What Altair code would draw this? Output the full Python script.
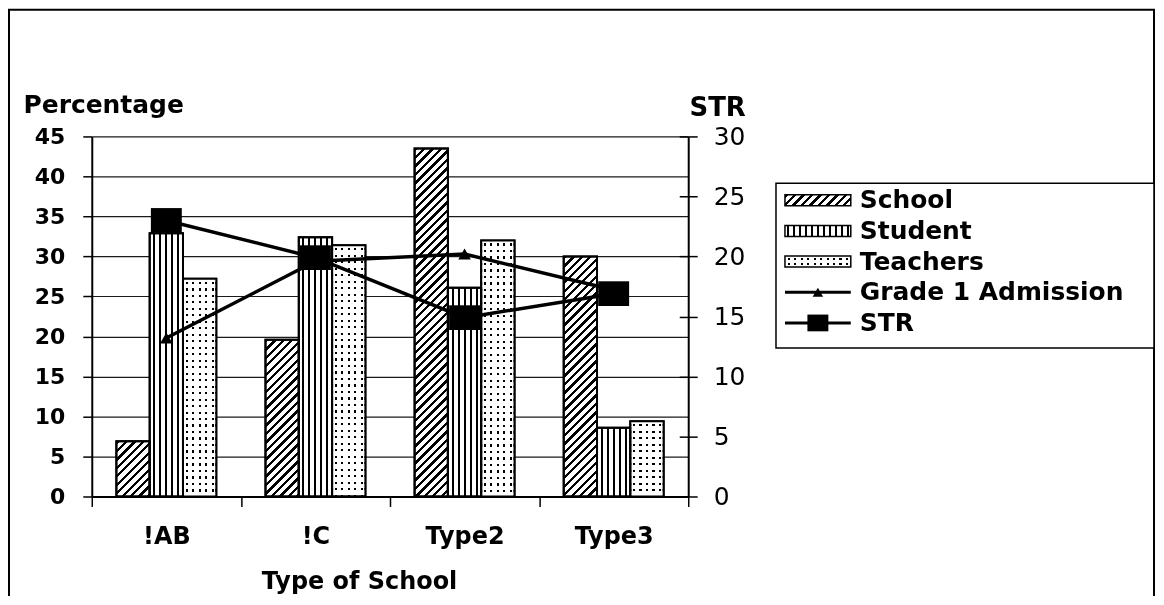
import altair as alt
import pandas as pd

# ---------------- data ----------------
categories = ["!AB", "!C", "Type2", "Type3"]
series_names = ["School", "Student", "Teachers"]
school_pct = [6.9, 19.6, 43.5, 30.0]
student_pct = [32.9, 32.4, 26.1, 8.6]
teachers_pct = [27.2, 31.4, 32.0, 9.4]
grade1_admission = [13.2, 19.6, 20.2, 17.2]
str_ratio = [23.0, 19.9, 14.9, 16.9]
pct_ticks = [0, 5, 10, 15, 20, 25, 30, 35, 40, 45]
str_ticks = [0, 5, 10, 15, 20, 25, 30]
legend_labels = ["School", "Student", "Teachers", "Grade 1 Admission", "STR"]
legend_rows = [0, 1, 2, 3, 4]

# ---------------- layout / style ----------------
FONT = "DejaVu Sans"
W, H = 1151, 588
PX0, PX1 = 84, 682          # plot area left/right (view px)
PY0, PY1 = 489, 128         # plot area bottom/top (view px)
STEP = (PX1 - PX0) / len(categories)
GROUP_FRAC = 0.67
OFF_PAD = (len(series_names) / GROUP_FRAC - len(series_names)) / 2
BAR_W = STEP * GROUP_FRAC / len(series_names)
PX_PER_PCT = (PY0 - PY1) / 45.0


def band_stops(total, period, dark, start):
    stops = [("white", 0.0)]
    p = start
    while p < total - 1e-6:
        a = max(p, 0.0)
        b = min(p + dark, total)
        if b > a:
            stops += [("white", a), ("black", a), ("black", b), ("white", b)]
        p += period
    stops.append(("white", total))
    return [{"offset": round(o / total, 5), "color": c} for c, o in stops]


def diag_fill(w, h, period=8.5, dark=3.4):
    s = (w + h) / (w * w + h * h)
    return {"gradient": "linear", "x1": 0, "y1": 0,
            "x2": round(w * s, 6), "y2": round(h * s, 6),
            "stops": band_stops(w + h, period, dark, 0.0)}


def vstripe_fill(w, period, dark, count):
    start = (w - ((count - 1) * period + dark)) / 2
    return {"gradient": "linear", "x1": 0, "y1": 0, "x2": 1, "y2": 0,
            "stops": band_stops(w, period, dark, start)}


def hstripe_fill(h, period, dark, start):
    return {"gradient": "linear", "x1": 0, "y1": 0, "x2": 0, "y2": 1,
            "stops": band_stops(h, period, dark, start)}


# ---------------- tables ----------------
bars_df = pd.DataFrame({
    "cat": categories * 3,
    "series": [s for s in series_names for _ in categories],
    "value": school_pct + student_pct + teachers_pct,
})
lines_df = pd.DataFrame({"cat": categories, "grade1": grade1_admission, "str": str_ratio})
legend_df = pd.DataFrame({"label": legend_labels, "row": legend_rows})
one_df = pd.DataFrame({"k": [0]})

# ---------------- scales / axes ----------------
x_scale = alt.Scale(domain=categories, range=[PX0, PX1], paddingInner=0, paddingOuter=0)
x_axis = alt.Axis(orient="bottom", offset=PY0 - H, title="Type of School", tickBand="extent",
                  tickSize=10, tickColor="black", tickWidth=1.5, domainColor="black", domainWidth=2,
                  labelFont=FONT, labelFontSize=24, labelFontWeight="bold", labelColor="black",
                  labelPadding=18, labelAngle=0, grid=False,
                  titleFont=FONT, titleFontSize=24, titleFontWeight="bold", titleColor="black",
                  titleX=352, titleY=92, titleAlign="center", titleBaseline="alphabetic")


def x_enc():
    return alt.X("cat:N", scale=x_scale, axis=x_axis)


def xoff_enc():
    return alt.XOffset("series:N", scale=alt.Scale(domain=series_names, paddingInner=0,
                                                   paddingOuter=OFF_PAD))


pct_scale = alt.Scale(domain=[0, 45], range=[PY0, PY1], nice=False, zero=True)
str_scale = alt.Scale(domain=[0, 30], range=[PY0, PY1], nice=False, zero=True)

pct_axis = alt.Axis(orient="left", offset=-PX0, values=pct_ticks, title="Percentage", titleAngle=0,
                    titleX=15 - PX0, titleY=104, titleAlign="left", titleBaseline="alphabetic",
                    titleFont=FONT, titleFontSize=25, titleFontWeight="bold", titleColor="black",
                    labelFont=FONT, labelFontSize=22, labelFontWeight="bold", labelColor="black",
                    labelPadding=18, tickSize=9, tickColor="black", tickWidth=1.5,
                    domainColor="black", domainWidth=2,
                    grid=True, gridColor="#1a1a1a", gridWidth=1.2, gridOpacity=1)
str_axis = alt.Axis(orient="right", offset=PX1 - W, values=str_ticks, title="STR", titleAngle=0,
                    titleX=29, titleY=107, titleAlign="center", titleBaseline="alphabetic",
                    titleFont=FONT, titleFontSize=26, titleFontWeight="bold", titleColor="black",
                    labelFont=FONT, labelFontSize=25, labelFontWeight="normal", labelColor="black",
                    labelPadding=16, tickSize=9, tickColor="black", tickWidth=1.5,
                    domainColor="black", domainWidth=2, grid=False)
str_inner_axis = alt.Axis(orient="left", offset=-PX1, values=str_ticks, labels=False, domain=False,
                          grid=False, title=None, tickSize=9, tickColor="black", tickWidth=1.5)

# ---------------- fills ----------------
bar_cases = []
for c, v in zip(categories, school_pct):
    bar_cases.append({"test": f"datum.series === 'School' && datum.cat === '{c}'",
                      "value": diag_fill(BAR_W, v * PX_PER_PCT)})
bar_cases.append({"test": "datum.series === 'Student'", "value": vstripe_fill(BAR_W, 6.0, 2.0, 5)})
bar_cases.append({"test": "datum.series === 'Teachers'", "value": vstripe_fill(BAR_W, 6.5, 2.2, 5)})

dot_cases = [{"test": f"datum.cat === '{c}'", "value": hstripe_fill(v * PX_PER_PCT, 6.5, 2.2, 3.0)}
             for c, v in zip(categories, teachers_pct)]

# ---------------- layers ----------------
frame = alt.Chart(one_df).mark_rect(fillOpacity=0, stroke="black", strokeWidth=2).encode(
    x=alt.value(1), x2=alt.value(1149), y=alt.value(1), y2=alt.value(H + 30))

legend_box = alt.Chart(one_df).mark_rect(fill="white", stroke="black", strokeWidth=1.5).encode(
    x=alt.value(770), x2=alt.value(1149), y=alt.value(175), y2=alt.value(340))

bars = alt.Chart(bars_df).mark_bar(stroke="black", strokeWidth=2).encode(
    x=x_enc(), xOffset=xoff_enc(),
    y=alt.Y("value:Q", scale=pct_scale, axis=pct_axis, stack=None),
    fill=alt.FillValue(value="white", condition=bar_cases),
)

dots_overlay = alt.Chart(bars_df).transform_filter("datum.series === 'Teachers'").mark_bar(
    strokeWidth=0, blend="lighten").encode(
    x=x_enc(), xOffset=xoff_enc(),
    y=alt.Y("value:Q", scale=pct_scale, axis=None, stack=None),
    fill=alt.FillValue(value="white", condition=dot_cases),
)

bar_outline = alt.Chart(bars_df).mark_bar(fillOpacity=0, stroke="black", strokeWidth=2).encode(
    x=x_enc(), xOffset=xoff_enc(),
    y=alt.Y("value:Q", scale=pct_scale, axis=None, stack=None),
)

grade_line = alt.Chart(lines_df).mark_line(color="black", strokeWidth=3.5).encode(
    x=x_enc(), y=alt.Y("grade1:Q", scale=str_scale, axis=str_inner_axis))
grade_pts = alt.Chart(lines_df).mark_point(shape="triangle-up", filled=True, fill="black",
                                            size=160, opacity=1).encode(
    x=x_enc(), y=alt.Y("grade1:Q", scale=str_scale, axis=None))

RECT_PATH = "M-1,-0.8L1,-0.8L1,0.8L-1,0.8Z"
str_line = alt.Chart(lines_df).mark_line(color="black", strokeWidth=3.5).encode(
    x=x_enc(), y=alt.Y("str:Q", scale=str_scale, axis=str_axis))
str_pts = alt.Chart(lines_df).mark_point(shape=RECT_PATH, filled=True, fill="black",
                                          size=961, opacity=1).encode(
    x=x_enc(), y=alt.Y("str:Q", scale=str_scale, axis=None))

# legend
leg_scale = alt.Scale(domain=[0, 4], range=[192, 315], nice=False, zero=False)


def leg_y():
    return alt.Y("row:Q", scale=leg_scale, axis=None)


SW_W, SW_H = 66, 11
SWATCH_PATH = "M-1,-0.1667L1,-0.1667L1,0.1667L-1,0.1667Z"
SW_SIZE = SW_W * SW_W
SW_X = 812


def leg_base(label):
    return alt.Chart(legend_df).transform_filter(f"datum.label === '{label}'")


leg_school = leg_base("School").mark_point(shape=SWATCH_PATH, size=SW_SIZE, filled=True,
                                           fill=diag_fill(SW_W, SW_H, 8.5, 3.4), stroke="black",
                                           strokeWidth=1.5, opacity=1).encode(x=alt.value(SW_X), y=leg_y())
leg_student = leg_base("Student").mark_point(shape=SWATCH_PATH, size=SW_SIZE, filled=True,
                                             fill=vstripe_fill(SW_W, 6.0, 2.0, 11), stroke="black",
                                             strokeWidth=1.5, opacity=1).encode(x=alt.value(SW_X), y=leg_y())
leg_teach = leg_base("Teachers").mark_point(shape=SWATCH_PATH, size=SW_SIZE, filled=True,
                                            fill=vstripe_fill(SW_W, 6.5, 2.2, 10), strokeWidth=0,
                                            opacity=1).encode(x=alt.value(SW_X), y=leg_y())
leg_teach_dots = leg_base("Teachers").mark_point(shape=SWATCH_PATH, size=SW_SIZE, filled=True,
                                                 fill=hstripe_fill(SW_H, 5.0, 2.0, 2.0), strokeWidth=0,
                                                 opacity=1, blend="lighten").encode(x=alt.value(SW_X), y=leg_y())
leg_teach_edge = leg_base("Teachers").mark_point(shape=SWATCH_PATH, size=SW_SIZE, filled=False,
                                                 stroke="black", strokeWidth=1.5,
                                                 opacity=1).encode(x=alt.value(SW_X), y=leg_y())
leg_lines = alt.Chart(legend_df).transform_filter("datum.row >= 3").mark_rule(
    color="black", strokeWidth=3).encode(x=alt.value(SW_X - SW_W / 2), x2=alt.value(SW_X + SW_W / 2), y=leg_y())
leg_tri = leg_base("Grade 1 Admission").mark_point(shape="triangle-up", filled=True, fill="black",
                                                   size=110, opacity=1).encode(x=alt.value(SW_X), y=leg_y())
leg_sq = leg_base("STR").mark_point(shape=RECT_PATH, filled=True, fill="black", size=441,
                                    opacity=1).encode(x=alt.value(SW_X), y=leg_y())
leg_text = alt.Chart(legend_df).mark_text(align="left", baseline="middle", font=FONT, fontSize=25,
                                          fontWeight="bold", color="black").encode(
    x=alt.value(854), y=leg_y(), text="label:N")

chart = alt.layer(
    frame, legend_box,
    bars, dots_overlay, bar_outline,
    grade_line, str_line, grade_pts, str_pts,
    leg_school, leg_student, leg_teach, leg_teach_dots, leg_teach_edge,
    leg_lines, leg_tri, leg_sq, leg_text,
).resolve_scale(y="independent").properties(
    width=W, height=H, padding=0, autosize=alt.AutoSizeParams(type="none"),
    background="white",
).configure_view(stroke=None)

chart.save("out.html", embed_options={"renderer": "svg", "actions": False})
